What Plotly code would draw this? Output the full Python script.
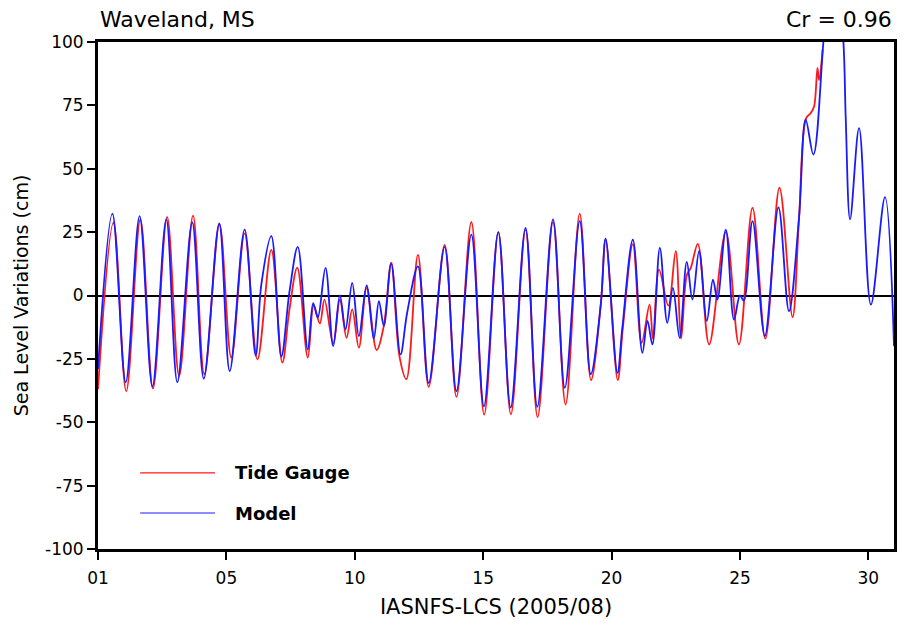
import plotly.graph_objects as go

# ---- data (day offset from 01 Aug 2005, sea level in cm) ----
model_day = [0.0, 0.56, 1.08, 1.62, 2.12, 2.66, 3.09, 3.67, 4.12, 4.72, 5.13, 5.71, 6.14, 6.36,
             6.75, 7.14, 7.46, 7.78, 8.17, 8.38, 8.56, 8.86, 9.16, 9.42, 9.64, 9.90, 10.16,
             10.46, 10.74, 10.94, 11.13, 11.42, 11.78, 12.04, 12.46, 12.88, 13.50, 13.96,
             14.54, 15.03, 15.59, 16.07, 16.65, 17.11, 17.72, 18.18, 18.76, 19.19, 19.58,
             19.77, 20.23, 20.42, 20.83, 21.20, 21.40, 21.59, 21.88, 22.17, 22.39, 22.65,
             22.93, 23.15, 23.41, 23.71, 23.95, 24.12, 24.45, 24.77, 25.00, 25.15, 25.49,
             25.97, 26.50, 26.91, 27.30, 27.56, 27.86, 28.25, 28.62, 29.03, 29.12, 29.29,
             29.64, 30.10, 30.65, 31.0]
model_cm = [-29, 32.3, -34.2, 31.3, -35.9, 30, -34.2, 28.8, -32.8, 28.4, -29.8, 26, -23.7, 4.3,
            23.4, -24, 1.7, 19.2, -21.3, -3, -8.7, 10.9, -20, 0, -13.4, 5, -16,
            4, -17, -2.2, -12, 12.6, -23.3, -6.8, 11.5, -34.5, 19.2, -37.7,
            24, -43.7, 25, -44.2, 26.7, -43.9, 30, -36.4, 29.3, -31, -3.6,
            22.4, -30.5, -12.8, 22, -22.6, -10, -19.3, 18.8, -10.8, 3, -16.7,
            13.3, -1.6, 17.5, -10, 6.3, -1.6, 26, -9.5, 0, -2, 29.3,
            -16, 34.8, -6.2, 30.6, 69.4, 55.6, 100, 150, 100, 70, 30,
            66, -3.6, 38.8, -20]

gauge_day = [0.0, 0.60, 1.10, 1.65, 2.14, 2.69, 3.16, 3.70, 4.14, 4.73, 5.19, 5.71, 6.21,
             6.75, 7.18, 7.45, 7.76, 8.17, 8.40, 8.64, 8.82, 9.16, 9.42, 9.68, 9.90, 10.16,
             10.46, 10.85, 11.13, 11.42, 11.74, 12.01, 12.46, 12.88, 13.50, 13.96, 14.54,
             15.04, 15.59, 16.08, 16.65, 17.12, 17.72, 18.21, 18.76, 19.20, 19.58, 19.77,
             20.24, 20.44, 20.83, 21.17, 21.48, 21.61, 21.85, 22.21, 22.50, 22.71, 22.93,
             23.09, 23.36, 23.80, 24.45, 24.96, 25.49, 25.99, 26.54, 27.05, 27.30, 27.58,
             27.76, 27.89, 28.02, 28.08, 28.22]
gauge_cm = [-37, 28.7, -37.7, 30, -36.7, 31, -31.8, 31.5, -31, 28, -24.5, 24.5, -25.2,
            18, -26.5, -6, 11, -24.5, -4, -11, -1.6, -19, -1.7, -16.7, -5.5, -20.6,
            3, -21.5, -12, 13, -24, -33, 16, -36, 20, -40, 29,
            -47, 25, -46.9, 26, -48, 29, -43, 32.3, -33.4, -3.6, 22,
            -33.4, -12.8, 20.3, -18.7, -3.6, -17, 10.2, -4, 17.5, -17, 8,
            11, 20.4, -19.3, 25, -19.3, 34.6, -17, 42.5, -8.5, 30, 70,
            72, 74.7, 89.8, 85, 97]

x_tickvals = [0, 5, 10, 15, 20, 25, 30]
x_ticktext = ["01", "05", "10", "15", "20", "25", "30"]
y_tickvals = [-100, -75, -50, -25, 0, 25, 50, 75, 100]
y_ticktext = ["-100", "-75", "-50", "-25", "0", "25", "50", "75", "100"]

FONT = "DejaVu Sans"
RED = "#ff1a1a"
BLUE = "#1a1aff"

fig = go.Figure()
fig.add_trace(go.Scatter(x=gauge_day, y=gauge_cm, mode="lines", name="Tide Gauge",
                         line=dict(color=RED, width=1.8, shape="spline", smoothing=1.0),
                         showlegend=False))
fig.add_trace(go.Scatter(x=model_day, y=model_cm, mode="lines", name="Model",
                         line=dict(color=BLUE, width=1.8, shape="spline", smoothing=1.0),
                         showlegend=False))

fig.update_layout(
    width=912, height=627,
    margin=dict(l=98, r=18, t=42, b=78),
    paper_bgcolor="white", plot_bgcolor="white",
    font=dict(family=FONT, color="black", size=17),
    xaxis=dict(range=[0, 31], tickvals=x_tickvals, ticktext=x_ticktext,
               showgrid=False, zeroline=False, showline=True, linecolor="black",
               linewidth=3, mirror=True, ticks="outside", ticklen=8, tickwidth=1.5,
               tickcolor="black", tickfont=dict(size=17), ticklabelstandoff=4,
               title=dict(text="IASNFS-LCS (2005/08)", font=dict(size=21), standoff=12)),
    yaxis=dict(range=[-100, 100], tickvals=y_tickvals, ticktext=y_ticktext,
               showgrid=False, zeroline=True, zerolinecolor="black", zerolinewidth=1.5,
               showline=True, linecolor="black", linewidth=3, mirror=True,
               ticks="outside", ticklen=8, tickwidth=1.5, tickcolor="black",
               tickfont=dict(size=17),
               title=dict(text="Sea Level Variations (cm)", font=dict(size=19), standoff=12)),
)

# header texts
fig.add_annotation(x=0, y=1, xref="paper", yref="paper", xanchor="left", yanchor="bottom",
                   yshift=8, text="Waveland, MS", showarrow=False, font=dict(size=22))
fig.add_annotation(x=1, y=1, xref="paper", yref="paper", xanchor="right", yanchor="bottom",
                   yshift=8, text="Cr = 0.96", showarrow=False, font=dict(size=22))

# in-plot legend
legend_items = [("Tide Gauge", RED, 0.150), ("Model", BLUE, 0.071)]
for label, color, ypos in legend_items:
    fig.add_shape(type="line", xref="paper", yref="paper", x0=0.053, x1=0.147,
                  y0=ypos, y1=ypos, line=dict(color=color, width=1.2))
    fig.add_annotation(x=0.170, y=ypos, xref="paper", yref="paper", xanchor="left",
                       yanchor="middle", text="<b>%s</b>" % label, showarrow=False,
                       font=dict(size=18))

fig.write_html("out.html")
